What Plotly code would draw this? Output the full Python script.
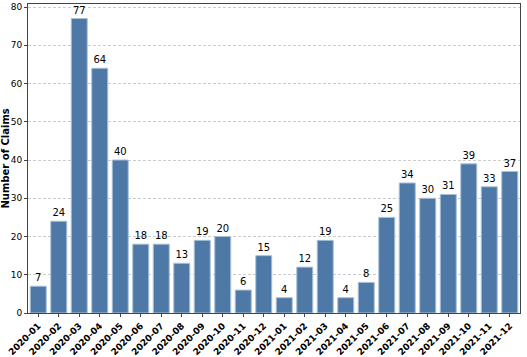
import plotly.graph_objects as go

months = ["2020-01","2020-02","2020-03","2020-04","2020-05","2020-06","2020-07","2020-08",
          "2020-09","2020-10","2020-11","2020-12","2021-01","2021-02","2021-03","2021-04",
          "2021-05","2021-06","2021-07","2021-08","2021-09","2021-10","2021-11","2021-12"]
claims = [7,24,77,64,40,18,18,13,19,20,6,15,4,12,19,4,8,25,34,30,31,39,33,37]
y_ticks = [0,10,20,30,40,50,60,70,80]

fig = go.Figure(go.Bar(
    x=months, y=claims, text=[str(v) for v in claims], textposition="outside",
    textfont=dict(size=10, color="#000"), cliponaxis=False,
    marker=dict(color="#4e79a7", line=dict(color="#a9c0d8", width=1)),
    width=0.78,
))
fig.update_layout(
    width=527, height=357, margin=dict(l=28, r=7, t=4, b=44, autoexpand=False),
    paper_bgcolor="white", plot_bgcolor="white",
    font=dict(family="DejaVu Sans", size=10, color="#000"),
    showlegend=False, bargap=0.2,
    xaxis=dict(type="category", range=[-0.5, 23.5], tickangle=-45, automargin=False,
               tickfont=dict(size=9, family="DejaVu Sans", weight="bold"),
               showline=True, linecolor="#444", linewidth=1, mirror=True,
               ticks="outside", ticklen=3, tickcolor="#444", showgrid=False),
    yaxis=dict(range=[0, 80.8], tickvals=y_ticks, tickfont=dict(size=9), automargin=False,
               showline=True, linecolor="#444", linewidth=1, mirror=True,
               ticks="outside", ticklen=3, tickcolor="#444",
               showgrid=True, gridcolor="#cccccc", griddash="3px,2px", gridwidth=0.7, zeroline=False),
    annotations=[dict(text="<b>Number of Claims</b>", xref="paper", yref="paper", x=0, y=0.5,
                      xshift=-23, textangle=-90, showarrow=False, font=dict(size=10),
                      xanchor="center", yanchor="middle")],
)
fig.write_html("out.html", config={"displayModeBar": False},
               post_script="document.body.style.margin='0';document.body.style.overflow='hidden';")
